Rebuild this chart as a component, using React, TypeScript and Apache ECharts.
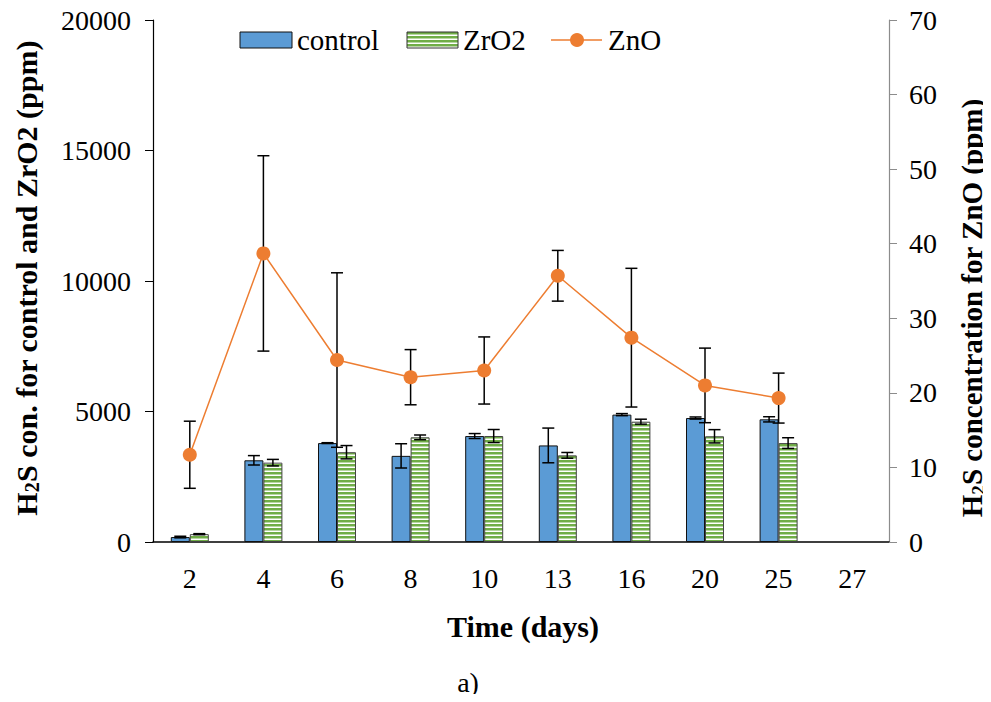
import React, { useEffect, useRef } from 'react';
import * as echarts from 'echarts';

const days = ['2', '4', '6', '8', '10', '13', '16', '20', '25', '27'];
const controlValues = [190, 3130, 3790, 3300, 4060, 3700, 4880, 4750, 4700, null];
const controlErrors = [30, 180, 15, 465, 95, 665, 40, 40, 100, null];
const zro2Values = [300, 3040, 3440, 4010, 4060, 3320, 4610, 4050, 3790, null];
const zro2Errors = [20, 125, 255, 90, 250, 110, 95, 255, 205, null];
const znoValues = [11.7, 38.7, 24.4, 22.1, 23.0, 35.7, 27.4, 21.0, 19.3, null];
const znoErrors = [4.5, 13.1, 11.7, 3.7, 4.5, 3.4, 9.3, 5.0, 3.35, null];

const leftAxisRange = [0, 20000];
const leftAxisStep = 5000;
const rightAxisRange = [0, 70];
const rightAxisStep = 10;
const legendNames = ['control', 'ZrO2', 'ZnO'];

const FONT = 'Liberation Serif, Times New Roman, serif';
const TICK_SIZE = 28;

function errData(vals: (number | null)[], errs: (number | null)[]) {
  const out: any[] = [];
  vals.forEach((v, i) => {
    if (v != null && errs[i] != null) out.push([i, v, errs[i]]);
  });
  return out;
}

function makeErrorRender(offset: number, cap: number, lw: number) {
  return (params: any, api: any) => {
    const i = api.value(0);
    const v = api.value(1);
    const e = api.value(2);
    const top = api.coord([i, v + e]);
    const bot = api.coord([i, v - e]);
    const x = top[0] + offset;
    const style = { stroke: '#000', lineWidth: lw };
    return {
      type: 'group',
      children: [
        { type: 'line', shape: { x1: x, y1: top[1], x2: x, y2: bot[1] }, style },
        { type: 'line', shape: { x1: x - cap / 2, y1: top[1], x2: x + cap / 2, y2: top[1] }, style },
        { type: 'line', shape: { x1: x - cap / 2, y1: bot[1], x2: x + cap / 2, y2: bot[1] }, style },
      ],
    };
  };
}

export default function App() {
  const ref = useRef<HTMLDivElement>(null);
  useEffect(() => {
    if (!ref.current) return;
    const chart = echarts.init(ref.current, undefined, { renderer: 'svg' });

    const cv = document.createElement('canvas');
    cv.width = 4;
    cv.height = 4;
    const ctx = cv.getContext('2d')!;
    ctx.fillStyle = '#ffffff';
    ctx.fillRect(0, 0, 4, 4);
    ctx.fillStyle = '#70AD47';
    ctx.fillRect(0, 0, 4, 2.5);
    const stripe = { image: cv, repeat: 'repeat' };

    const makeRich = (size: number) => ({
      n: { fontFamily: FONT, fontSize: size, fontWeight: 'bold', color: '#000', lineHeight: size + 2 },
      s: { fontFamily: FONT, fontSize: Math.round(size * 0.66), fontWeight: 'bold', color: '#000', lineHeight: Math.round(size * 0.66), verticalAlign: 'bottom' },
    });
    const legendText = (text: string, x: number) => ({
      type: 'text',
      x,
      y: 40,
      style: { text, fontFamily: FONT, fontSize: 29, fill: '#000', align: 'left', verticalAlign: 'middle' },
    });
    const tickLabel = { fontFamily: FONT, fontSize: TICK_SIZE, color: '#000' };

    const option: any = {
      animation: false,
      backgroundColor: '#fff',
      textStyle: { fontFamily: FONT, color: '#000' },
      grid: { left: 153, right: 102, top: 20, bottom: 160 },
      xAxis: {
        type: 'category',
        data: days,
        boundaryGap: true,
        axisLine: { lineStyle: { color: '#000', width: 1.5 } },
        axisTick: { show: false },
        axisLabel: { ...tickLabel, margin: 22, interval: 0 },
      },
      yAxis: [
        {
          type: 'value',
          min: leftAxisRange[0],
          max: leftAxisRange[1],
          interval: leftAxisStep,
          position: 'left',
          axisLine: { show: true, lineStyle: { color: '#000', width: 1.2 } },
          axisTick: { show: true, length: 8, lineStyle: { color: '#000' } },
          splitLine: { show: false },
          axisLabel: { ...tickLabel, margin: 22, formatter: (v: number) => String(v) },
        },
        {
          type: 'value',
          min: rightAxisRange[0],
          max: rightAxisRange[1],
          interval: rightAxisStep,
          position: 'right',
          axisLine: { show: true, lineStyle: { color: '#8c8c8c', width: 1.2 } },
          axisTick: { show: true, length: 8, lineStyle: { color: '#8c8c8c' } },
          splitLine: { show: false },
          axisLabel: { ...tickLabel, margin: 20, formatter: (v: number) => String(v) },
        },
      ],
      series: [
        {
          name: 'control',
          type: 'bar',
          data: controlValues,
          barWidth: 19,
          barGap: '0%',
          itemStyle: { color: '#5B9BD5', borderColor: '#111', borderWidth: 1 },
          z: 2,
        },
        {
          name: 'ZrO2',
          type: 'bar',
          data: zro2Values,
          barWidth: 19,
          barGap: '0%',
          itemStyle: { color: stripe, borderColor: '#444', borderWidth: 1 },
          z: 2,
        },
        {
          name: 'controlErr',
          type: 'custom',
          renderItem: makeErrorRender(-9.5, 12, 1.5),
          data: errData(controlValues, controlErrors),
          encode: { x: 0, y: 1 },
          z: 3,
          silent: true,
        },
        {
          name: 'zro2Err',
          type: 'custom',
          renderItem: makeErrorRender(9.5, 12, 1.5),
          data: errData(zro2Values, zro2Errors),
          encode: { x: 0, y: 1 },
          z: 3,
          silent: true,
        },
        {
          name: 'znoErr',
          type: 'custom',
          yAxisIndex: 1,
          renderItem: makeErrorRender(0, 12, 1.5),
          data: errData(znoValues, znoErrors),
          encode: { x: 0, y: 1 },
          z: 4,
          silent: true,
        },
        {
          name: 'ZnO',
          type: 'line',
          yAxisIndex: 1,
          data: znoValues,
          symbol: 'circle',
          symbolSize: 14,
          lineStyle: { color: '#ED7D31', width: 1.5 },
          itemStyle: { color: '#ED7D31' },
          z: 5,
        },
      ],
      graphic: [
        {
          type: 'rect',
          shape: { x: 240, y: 32, width: 52, height: 16 },
          style: { fill: '#5B9BD5', stroke: '#111', lineWidth: 1 },
        },
        legendText(legendNames[0], 297),
        {
          type: 'rect',
          shape: { x: 407, y: 32, width: 51, height: 16 },
          style: { fill: stripe, stroke: '#333', lineWidth: 1 },
        },
        legendText(legendNames[1], 463),
        {
          type: 'line',
          shape: { x1: 551, y1: 40, x2: 602, y2: 40 },
          style: { stroke: '#ED7D31', lineWidth: 1.5 },
        },
        {
          type: 'circle',
          shape: { cx: 577, cy: 40, r: 7 },
          style: { fill: '#ED7D31' },
        },
        legendText(legendNames[2], 608),
        {
          type: 'text',
          x: 26,
          y: 278,
          rotation: Math.PI / 2,
          style: {
            text: '{n|H}{s|2}{n|S con. for control and ZrO2 (ppm)}',
            rich: makeRich(30),
            align: 'center',
            verticalAlign: 'middle',
          },
        },
        {
          type: 'text',
          x: 972,
          y: 308,
          rotation: Math.PI / 2,
          style: {
            text: '{n|H}{s|2}{n|S concentration for ZnO (ppm)}',
            rich: makeRich(29),
            align: 'center',
            verticalAlign: 'middle',
          },
        },
        {
          type: 'text',
          x: 523,
          y: 626,
          style: {
            text: 'Time (days)',
            fontFamily: FONT,
            fontSize: 30,
            fontWeight: 'bold',
            fill: '#000',
            align: 'center',
            verticalAlign: 'middle',
          },
        },
        {
          type: 'text',
          x: 468,
          y: 682,
          style: {
            text: 'a)',
            fontFamily: FONT,
            fontSize: 28,
            fill: '#000',
            align: 'center',
            verticalAlign: 'middle',
          },
        },
      ],
    };
    chart.setOption(option);
    return () => chart.dispose();
  }, []);
  return <div ref={ref} style={{ width: 991, height: 702, margin: -8 }} />;
}
